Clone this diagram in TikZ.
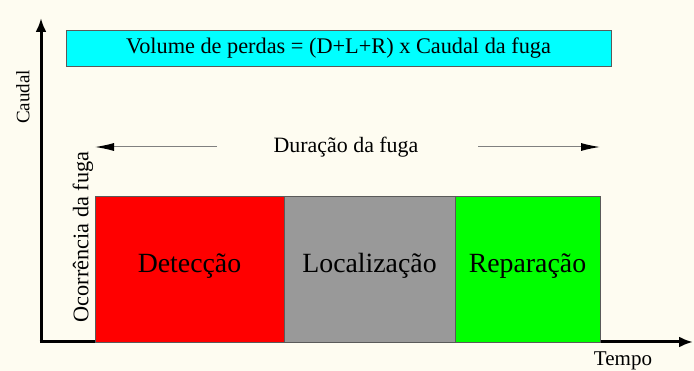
\documentclass[tikz,border=0pt]{standalone}
\usepackage{fontspec}
\setmainfont{Liberation Serif}
\usetikzlibrary{arrows.meta}
\definecolor{bg}{RGB}{254,252,241}
\definecolor{edge}{RGB}{90,90,90}
\definecolor{titlecyan}{RGB}{0,255,255}
\definecolor{phasered}{RGB}{255,0,0}
\definecolor{phasegray}{RGB}{153,153,153}
\definecolor{phasegreen}{RGB}{0,255,0}
\tikzset{
  axis/.style={line width=3pt, -{Latex[length=14pt,width=11pt]}},
  durarrow/.style={draw=gray, line width=1pt, -{Latex[length=19pt,width=8pt,color=black]}},
  phase/.style={draw=edge, line width=0.8pt, minimum height=146, inner sep=0,
                text height=25pt, text depth=18pt, font=\fontsize{27.8}{30}\selectfont},
  txt/.style={inner sep=0, anchor=base},
}
\begin{document}
\begin{tikzpicture}[x=1pt,y=-1pt]
\fill[bg] (0,0) rectangle (694,371);
\useasboundingbox (0,0) rectangle (694,371);
% axes
\coordinate (O) at (41,342);
\coordinate (Ytop) at (41,18);
\coordinate (Xend) at (693,342);
\draw[axis] (O) -- (Ytop);
\draw[axis] ([xshift=-1.5pt]O) -- (Xend);
% title box
\node[draw=edge, line width=0.8pt, fill=titlecyan, minimum width=545, minimum height=36, inner sep=0,
      font=\fontsize{22.3}{26}\selectfont] (title) at (338.5,48) {Volume de perdas = (D+L+R) x Caudal da fuga};
% phases
\node[phase, fill=phasered, minimum width=189] (det) at (189.5,269) {Detecção};
\node[phase, fill=phasegray, minimum width=171] (loc) at (369.5,269) {Localização};
\node[phase, fill=phasegreen, minimum width=145] (rep) at (527.5,269) {Reparação};
% duration
\node[txt, font=\fontsize{21.9}{26}\selectfont] (dur) at (346,153) {Duração da fuga};
\coordinate (Ls) at (217,147);
\coordinate (Le) at (95,147);
\coordinate (Rs) at (478,147);
\coordinate (Re) at (600,147);
\draw[durarrow] (Ls) -- (Le);
\draw[durarrow] (Rs) -- (Re);
% axis labels
\node[inner sep=0, rotate=90, font=\fontsize{19}{22}\selectfont] (caudal) at (23,97) {Caudal};
\node[inner sep=0, rotate=90, font=\fontsize{22.3}{26}\selectfont] (ocor) at (83,237) {Ocorrência da fuga};
\node[txt, font=\fontsize{21}{24}\selectfont] (tempo) at (623,366) {Tempo};
\end{tikzpicture}
\end{document}
